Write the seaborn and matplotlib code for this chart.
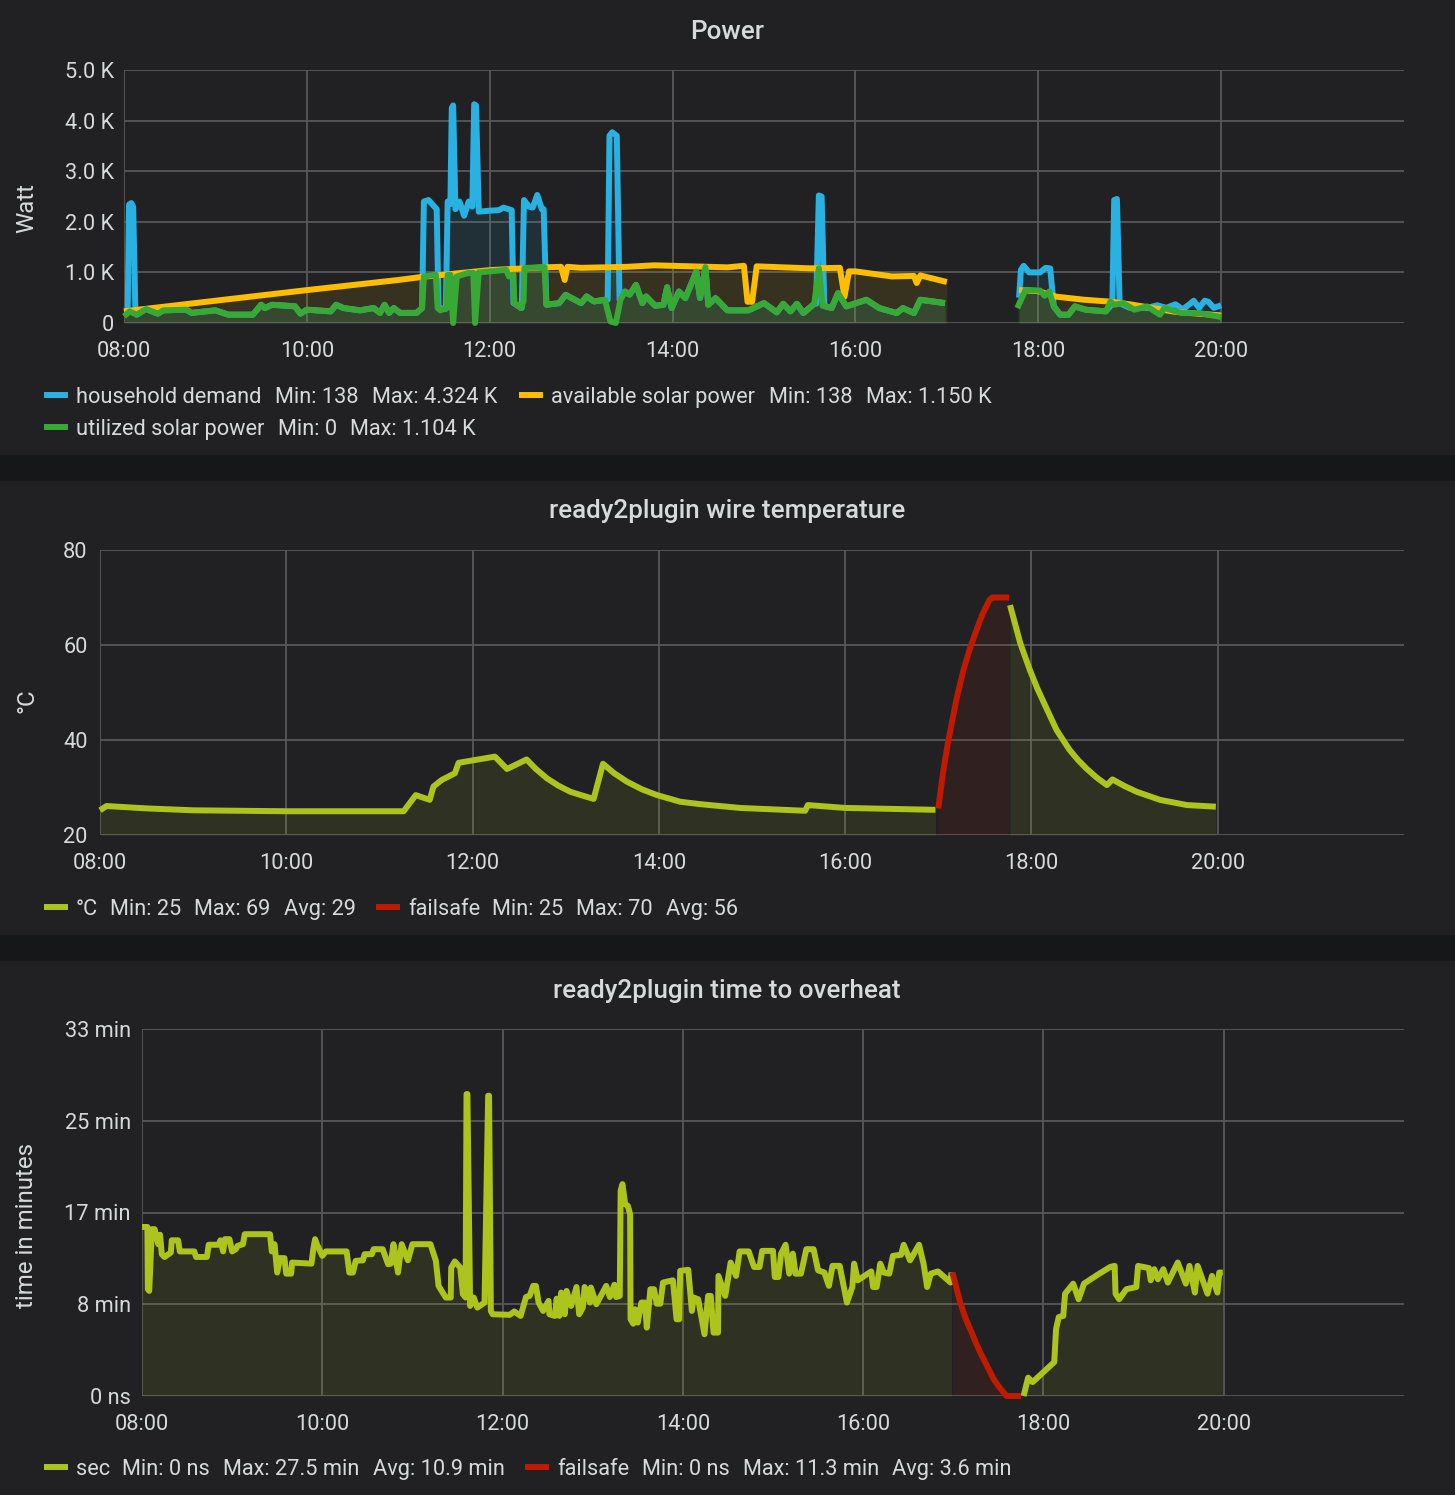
import seaborn as sns
import matplotlib.pyplot as plt
from matplotlib.lines import Line2D
from matplotlib.patches import Rectangle

W, H = 1455, 1495
BG = '#161719'
PANEL = '#212124'
TXT = '#d8d9da'
GRID = '#58585a'
BLUE = '#29b1e2'
YELLOW = '#fdbe00'
GREEN = '#38a934'
LIME = '#adc41c'
RED = '#bf1b00'

hour_ticks = [8, 10, 12, 14, 16, 18, 20]
hour_labels = ['08:00', '10:00', '12:00', '14:00', '16:00', '18:00', '20:00']

# power panel
power_ticks = [0, 1000, 2000, 3000, 4000, 5000]
power_labels = ['0', '1.0 K', '2.0 K', '3.0 K', '4.0 K', '5.0 K']

# demand sits right behind the utilized line between its spikes
demand_t1 = [8.0, 8.04, 8.055, 8.08, 8.1, 8.125, 8.14, 8.24, 8.37, 8.43, 8.68, 8.74, 9.0, 9.14, 9.41, 9.5, 9.54, 9.62,
             9.87, 9.93, 10.0, 10.26, 10.32, 10.4, 10.58, 10.73, 10.8, 10.85, 10.9, 10.95, 11.02, 11.2, 11.26, 11.28,
             11.33, 11.42, 11.44, 11.52, 11.54, 11.57, 11.585, 11.6, 11.625, 11.67, 11.72, 11.77, 11.81, 11.83, 11.85,
             11.88, 12.0, 12.1, 12.15, 12.24, 12.26, 12.35, 12.375, 12.43, 12.47, 12.52, 12.57, 12.59, 12.62, 12.76,
             12.83, 13.0, 13.06, 13.14, 13.26, 13.29, 13.31, 13.34, 13.39, 13.42, 13.48, 13.53, 13.6, 13.67, 13.71,
             13.81, 13.9, 13.94, 13.99, 14.07, 14.14, 14.26, 14.3, 14.36, 14.39, 14.47, 14.6, 14.83, 15.0, 15.14,
             15.21, 15.29, 15.36, 15.43, 15.55, 15.57, 15.6, 15.63, 15.66, 15.74, 15.81, 15.9, 16.12, 16.26, 16.45,
             16.52, 16.64, 16.71, 16.98]
demand_v1 = [230, 240, 2340, 2370, 2300, 200, 165, 277, 185, 250, 263, 200, 250, 165, 165, 360, 296, 360,
             330, 185, 263, 230, 360, 296, 250, 296, 200, 360, 200, 296, 200, 200, 296, 2400,
             2430, 2250, 296, 280, 2400, 2350, 4250, 4300, 2250, 2400, 2120, 2400, 2300, 4324, 4300,
             2200, 2220, 2230, 2280, 2230, 395, 296, 2430, 2300, 2280, 2530, 2250, 2250, 360, 393,
             557, 393, 525, 426, 459, 459, 3700, 3770, 3700, 459, 623, 560, 754, 393, 525,
             341, 360, 708, 295, 623, 492, 1016, 492, 1104, 360, 492, 250, 250, 393, 210,
             380, 230, 380, 197, 380, 380, 2520, 2500, 341, 295, 590, 328, 459, 295, 197,
             295, 197, 459, 393]
demand_t2 = [17.79, 17.81, 17.84, 17.9, 18.02, 18.08, 18.13, 18.17, 18.24, 18.33, 18.4, 18.52, 18.74, 18.81, 18.83, 18.86,
             18.89, 19.0, 19.2, 19.3, 19.4, 19.5, 19.58, 19.66, 19.7, 19.76, 19.82, 19.86, 19.92, 20.0]
demand_v2 = [500, 1050, 1130, 1000, 1000, 1090, 1080, 328, 164, 164, 328, 262, 230, 380, 2430, 2450,
             393, 300, 300, 350, 300, 370, 270, 380, 440, 300, 440, 420, 300, 350]

solar_t1 = [8.0, 9.0, 10.0, 11.0, 11.28, 12.0, 12.6, 12.78, 12.82, 12.85, 13.0, 13.5, 13.8, 14.2, 14.6, 14.78, 14.82,
            14.87, 14.92, 15.5, 15.83, 15.88, 15.93, 16.0, 16.4, 16.64, 16.67, 16.71, 17.0]
solar_v1 = [230, 440, 650, 850, 915, 1045, 1100, 1110, 850, 1110, 1090, 1110, 1140, 1120, 1100, 1130, 420,
            420, 1120, 1080, 1090, 520, 1020, 1020, 920, 930, 790, 940, 810]
solar_t2 = [17.79, 18.0, 18.2, 18.5, 18.8, 19.0, 19.2, 19.5, 20.0]
solar_v2 = [650, 630, 520, 460, 420, 370, 310, 220, 150]

used_t1 = [8.0, 8.06, 8.14, 8.24, 8.37, 8.43, 8.68, 8.74, 9.0, 9.14, 9.41, 9.5, 9.54, 9.62, 9.87, 9.93, 10.0, 10.26,
           10.32, 10.4, 10.58, 10.73, 10.8, 10.85, 10.9, 10.95, 11.02, 11.2, 11.26, 11.28, 11.41, 11.43, 11.46,
           11.53, 11.54, 11.57, 11.6, 11.64, 11.77, 11.82, 11.84, 11.88, 12.18, 12.21, 12.26, 12.27, 12.34, 12.37,
           12.38, 12.6, 12.62, 12.76, 12.83, 13.0, 13.06, 13.14, 13.26, 13.32, 13.38, 13.43, 13.48, 13.53, 13.6,
           13.67, 13.71, 13.81, 13.9, 13.94, 13.99, 14.07, 14.14, 14.26, 14.3, 14.36, 14.39, 14.47, 14.6, 14.83,
           15.0, 15.14, 15.21, 15.29, 15.36, 15.43, 15.55, 15.6, 15.64, 15.74, 15.81, 15.9, 16.12, 16.26, 16.45,
           16.52, 16.64, 16.71, 16.98]
used_v1 = [130, 230, 165, 277, 185, 250, 263, 200, 250, 165, 165, 360, 296, 360, 330, 185, 263, 230,
           360, 296, 250, 296, 200, 360, 200, 296, 200, 200, 296, 920, 955, 296, 250,
           296, 950, 955, 0, 920, 990, 990, 0, 1000, 1050, 920, 955, 395, 296, 430,
           1087, 1104, 360, 393, 557, 393, 525, 426, 459, 30, 0, 459, 623, 560, 754,
           393, 525, 341, 360, 708, 295, 623, 492, 1016, 492, 1104, 360, 492, 250, 250,
           393, 210, 380, 230, 380, 197, 380, 1082, 341, 295, 590, 328, 459, 295, 197,
           295, 197, 459, 393]
used_t2 = [17.77, 17.86, 18.02, 18.07, 18.12, 18.17, 18.24, 18.33, 18.4, 18.52, 18.74, 18.79, 18.83, 18.93, 19.05,
           19.19, 19.33, 19.38, 19.57, 19.76, 20.0]
used_v2 = [295, 656, 640, 538, 623, 328, 164, 164, 328, 262, 230, 426, 360, 393, 262,
           328, 164, 295, 197, 197, 118]

# wire temperature panel
temp_ticks = [20, 40, 60, 80]
temp_labels = ['20', '40', '60', '80']

wire_t1 = [8.0, 8.07, 8.5, 9.0, 10.0, 11.0, 11.26, 11.39, 11.54, 11.58, 11.67, 11.81, 11.85, 12.24, 12.37, 12.58,
           12.68, 12.8, 12.92, 13.05, 13.18, 13.3, 13.4, 13.52, 13.66, 13.82, 13.98, 14.23, 14.44, 14.87, 15.57,
           15.6, 16.0, 16.97]
wire_v1 = [25.2, 26.1, 25.6, 25.2, 25.0, 25.0, 25.0, 28.4, 27.4, 30.2, 31.6, 33.0, 35.2, 36.5, 33.9, 35.9,
           33.9, 31.9, 30.4, 29.1, 28.3, 27.6, 35.0, 33.0, 31.2, 29.6, 28.4, 27.0, 26.5, 25.7, 25.1,
           26.3, 25.7, 25.3]
wire_t2 = [17.77, 17.88, 17.98, 18.06, 18.13, 18.27, 18.41, 18.5, 18.59, 18.7, 18.81, 18.87, 19.0, 19.13, 19.38, 19.67, 19.98]
wire_v2 = [68.4, 60.4, 54.9, 51, 48, 42.1, 37.9, 35.8, 34, 32.1, 30.5, 31.7, 30.3, 29.1, 27.4, 26.3, 25.96]
wire_fail_t = [17.0, 17.05, 17.1, 17.144, 17.2, 17.27, 17.33, 17.39, 17.47, 17.55, 17.58, 17.76]
wire_fail_v = [25.6, 33, 39, 43.5, 49, 54.7, 58.7, 62.1, 66.3, 69.5, 70, 70]

# time to overheat panel, in minutes
time_ticks = [0, 8.25, 16.5, 24.75, 33]
time_labels = ['0 ns', '8 min', '17 min', '25 min', '33 min']

heat_t1 = [8.0, 8.06, 8.065, 8.08, 8.11, 8.14, 8.18, 8.2, 8.22, 8.25, 8.32, 8.33, 8.4, 8.42, 8.58, 8.6, 8.72, 8.74,
           8.85, 8.87, 8.9, 8.92, 8.97, 9.0, 9.04, 9.06, 9.12, 9.14, 9.42, 9.44, 9.47, 9.5, 9.53, 9.58, 9.6, 9.655,
           9.665, 9.88, 9.9, 9.92, 9.94, 10.0, 10.04, 10.27, 10.3, 10.34, 10.37, 10.45, 10.47, 10.55, 10.57, 10.67,
           10.73, 10.76, 10.79, 10.84, 10.88, 10.95, 11.0, 11.2, 11.26, 11.29, 11.37, 11.425, 11.43, 11.47, 11.53,
           11.56, 11.59, 11.6, 11.61, 11.64, 11.68, 11.72, 11.8, 11.84, 11.85, 11.87, 11.89, 12.08, 12.13, 12.2,
           12.26, 12.3, 12.34, 12.37, 12.4, 12.45, 12.51, 12.52, 12.58, 12.6, 12.63, 12.65, 12.69, 12.71, 12.76,
           12.82, 12.85, 12.89, 12.91, 12.97, 12.98, 13.04, 13.15, 13.19, 13.24, 13.26, 13.3, 13.31, 13.33, 13.36,
           13.39, 13.415, 13.42, 13.45, 13.47, 13.5, 13.54, 13.58, 13.6, 13.64, 13.68, 13.71, 13.75, 13.78, 13.89,
           13.93, 13.96, 13.97, 14.06, 14.1, 14.12, 14.17, 14.24, 14.28, 14.31, 14.34, 14.39, 14.395, 14.47, 14.53,
           14.59, 14.63, 14.73, 14.79, 14.85, 14.88, 15.0, 15.02, 15.06, 15.09, 15.14, 15.18, 15.22, 15.25, 15.31,
           15.37, 15.45, 15.5, 15.57, 15.62, 15.66, 15.74, 15.82, 15.88, 15.9, 15.94, 16.09, 16.11, 16.15, 16.19,
           16.23, 16.29, 16.33, 16.42, 16.45, 16.52, 16.62, 16.67, 16.71, 16.75, 16.83, 16.97, 16.98]
heat_v1 = [15.2, 15.2, 9.6, 9.45, 15.0, 15.0, 13.65, 14.5, 12.75, 12.5, 12.9, 14.0, 14.0, 13.0, 13.0, 12.5, 12.5, 13.6,
           13.6, 14.0, 13.0, 14.1, 14.1, 13.0, 13.2, 13.5, 13.65, 14.55, 14.55, 13.0, 13.65, 11.1, 12.4, 12.4, 11.0, 11.0,
           12.0, 11.9, 13.2, 14.1, 13.65, 12.6, 13.0, 13.0, 11.1, 11.1, 12.15, 12.2, 12.75, 12.75, 13.2, 13.2,
           11.85, 11.9, 13.65, 11.1, 13.65, 12.2, 13.65, 13.65, 12.15, 9.9, 8.85, 8.85, 11.55, 12.1, 11.55,
           9.15, 8.85, 27.15, 27.15, 8.1, 8.85, 7.95, 8.4, 27.0, 27.0, 7.65, 7.35, 7.3, 7.6, 7.2,
           8.9, 9.0, 9.9, 9.9, 8.4, 7.65, 8.55, 7.35, 7.2, 8.75, 7.2, 9.3, 7.35, 9.45, 8.1,
           9.8, 7.35, 7.95, 9.8, 8.4, 9.75, 8.25, 9.9, 8.9, 10.0, 8.9, 9.0, 18.45, 19.05, 17.25,
           17.1, 16.35, 6.9, 6.5, 7.8, 6.6, 8.4, 8.4, 6.15, 9.6, 9.6, 8.3, 8.3, 10.2, 10.4,
           6.9, 6.9, 11.25, 11.35, 7.65, 8.85, 8.7, 5.55, 9.0, 9.0, 5.7, 5.7, 10.8, 9.0, 12.0,
           10.8, 13.0, 13.0, 11.6, 11.6, 13.05, 13.05, 10.7, 10.7, 12.8, 13.6, 11.0, 12.8, 11.0, 11.0,
           13.2, 13.2, 11.3, 11.1, 9.9, 11.7, 11.7, 8.4, 9.8, 11.9, 10.4, 11.2, 9.8, 9.8, 11.9,
           11.1, 11.0, 12.6, 12.7, 13.6, 12.2, 13.6, 11.9, 9.8, 11.0, 11.2, 10.2, 11.1]
heat_t2 = [17.78, 17.83, 17.88, 18.12, 18.14, 18.17, 18.22, 18.24, 18.33, 18.39, 18.45, 18.6, 18.74, 18.79, 18.8, 18.84,
           18.92, 19.03, 19.05, 19.17, 19.19, 19.23, 19.27, 19.33, 19.38, 19.49, 19.58, 19.62, 19.68, 19.71, 19.75,
           19.82, 19.87, 19.93, 19.95, 19.99]
heat_v2 = [0, 1.65, 1.25, 3.05, 6.0, 7.1, 7.2, 9.2, 10.1, 8.7, 10.1, 10.9, 11.6, 11.7, 9.2, 8.7,
           9.6, 9.8, 11.7, 11.5, 10.4, 11.4, 10.5, 11.4, 10.2, 12.0, 10.1, 11.7, 9.3, 11.7, 10.8,
           9.2, 10.8, 9.3, 11.1, 11.1]
heat_fail_t = [16.99, 17.03, 17.07, 17.11, 17.15, 17.2, 17.24, 17.3, 17.4, 17.45, 17.5, 17.59, 17.75]
heat_fail_v = [11.1, 9.9, 8.6, 7.6, 6.7, 5.8, 5.0, 3.9, 2.3, 1.5, 0.9, 0, 0]

sns.set_theme(style='dark')
plt.rcParams['font.family'] = ['Roboto', 'DejaVu Sans']
plt.rcParams['axes.facecolor'] = PANEL
plt.rcParams['figure.facecolor'] = BG

fig = plt.figure(figsize=(W / 100, H / 100), dpi=100, facecolor=BG)


def fx(px):
    return px / W


def fy(py):
    return 1 - py / H


def make_axes(left, right, top, bottom, xhi, ylim, yticks, ylabels, ytitle, ytitle_x, ytitle_y, title, title_y, pad):
    ax = fig.add_axes([fx(left), fy(bottom), (right - left) / W, (bottom - top) / H])
    ax.set_facecolor('none')
    ax.set_xlim(8, xhi)
    ax.set_ylim(*ylim)
    ax.set_xticks(hour_ticks)
    ax.set_xticklabels(hour_labels)
    ax.set_yticks(yticks)
    ax.set_yticklabels(ylabels)
    ax.grid(True, color=GRID, lw=1.3)
    ax.set_axisbelow(True)
    sns.despine(ax=ax, left=True, bottom=True)
    ax.tick_params(axis='x', length=0, pad=13, labelsize=15.7, labelcolor=TXT)
    ax.tick_params(axis='y', length=0, pad=pad, labelsize=15.7, labelcolor=TXT)
    fig.text(fx(ytitle_x), fy(ytitle_y), ytitle, rotation=90, ha='center', va='center', color=TXT, fontsize=17.3)
    fig.text(fx(727), fy(title_y), title, ha='center', va='center', color=TXT, fontsize=18.7, fontweight='medium')
    return ax


def draw(ax, t, v, color):
    sns.lineplot(x=t, y=v, ax=ax, color=color, lw=4.3, sort=False, estimator=None, errorbar=None,
                 clip_on=False, solid_capstyle='butt', zorder=3)
    ax.fill_between(t, v, ax.get_ylim()[0], color=color, alpha=0.1, lw=0, zorder=2)


def legend_item(x_key, y, color, parts):
    fig.add_artist(Line2D([fx(x_key), fx(x_key + 24)], [fy(y), fy(y)], color=color, lw=4.3, solid_capstyle='butt'))
    for x, s in parts:
        fig.text(fx(x), fy(y + 2.5), s, ha='left', va='center', color=TXT, fontsize=15.7)


for top, bottom in [(0, 455), (481, 935), (961, 1495)]:
    fig.add_artist(Rectangle((0, fy(bottom)), 1, (bottom - top) / H, transform=fig.transFigure,
                             facecolor=PANEL, edgecolor='none', zorder=-5))

# Power
ax1 = make_axes(124, 1404, 70, 323, 22, (0, 5000), power_ticks, power_labels, 'Watt', 27, 208, 'Power', 32, 7)
for t, v, c in [(demand_t1, demand_v1, BLUE), (demand_t2, demand_v2, BLUE),
                (solar_t1, solar_v1, YELLOW), (solar_t2, solar_v2, YELLOW),
                (used_t1, used_v1, GREEN), (used_t2, used_v2, GREEN)]:
    draw(ax1, t, v, c)
legend_item(44, 395, BLUE, [(76, 'household demand'), (275, 'Min: 138'), (372, 'Max: 4.324 K')])
legend_item(519, 395, YELLOW, [(551, 'available solar power'), (769, 'Min: 138'), (866, 'Max: 1.150 K')])
legend_item(44, 427, GREEN, [(76, 'utilized solar power'), (278, 'Min: 0'), (350, 'Max: 1.104 K')])

# wire temperature
ax2 = make_axes(100, 1404, 550, 835, 22, (20, 80), temp_ticks, temp_labels, '°C', 27, 701,
                'ready2plugin wire temperature', 511, 9)
for t, v, c in [(wire_t1, wire_v1, LIME), (wire_t2, wire_v2, LIME), (wire_fail_t, wire_fail_v, RED)]:
    draw(ax2, t, v, c)
legend_item(44, 907, LIME, [(76, '°C'), (110, 'Min: 25'), (194, 'Max: 69'), (284, 'Avg: 29')])
legend_item(376, 907, RED, [(408, 'failsafe'), (492, 'Min: 25'), (576, 'Max: 70'), (666, 'Avg: 56')])

# time to overheat
ax3 = make_axes(142, 1404, 1029, 1396, 22, (0, 33), time_ticks, time_labels, 'time in minutes', 27, 1225,
                'ready2plugin time to overheat', 991, 8)
for t, v, c in [(heat_t1, heat_v1, LIME), (heat_t2, heat_v2, LIME), (heat_fail_t, heat_fail_v, RED)]:
    draw(ax3, t, v, c)
legend_item(44, 1467, LIME, [(76, 'sec'), (122, 'Min: 0 ns'), (223, 'Max: 27.5 min'), (373, 'Avg: 10.9 min')])
legend_item(525, 1467, RED, [(557, 'failsafe'), (642, 'Min: 0 ns'), (743, 'Max: 11.3 min'), (892, 'Avg: 3.6 min')])

plt.savefig('out.png', dpi=100, facecolor=BG)
